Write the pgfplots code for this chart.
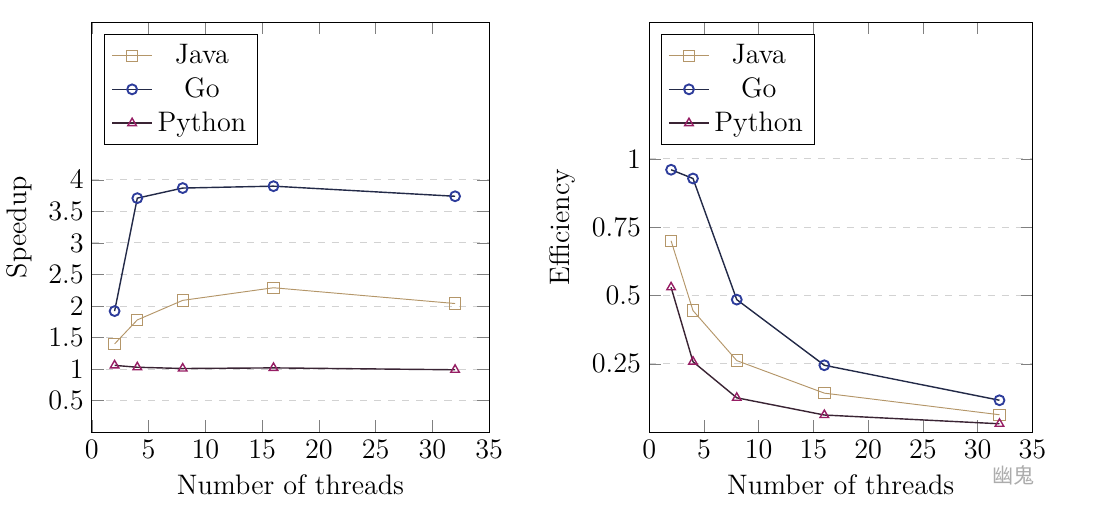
\documentclass[border=0pt]{standalone}
\usepackage{pgfplots}
\pgfplotsset{compat=1.18}
\usepackage{fontspec}
\newfontfamily\cjk{Noto Sans CJK SC}
\definecolor{javacol}{RGB}{180,150,105}
\definecolor{golinecol}{RGB}{35,42,72}
\definecolor{gomarkcol}{RGB}{45,60,155}
\definecolor{pylinecol}{RGB}{58,36,52}
\definecolor{pymarkcol}{RGB}{150,30,100}
\pgfplotsset{
  myax/.style={
    scale only axis,
    height=174.5pt,
    xmin=0, xmax=35,
    xtick={0,5,...,35},
    ymajorgrids,
    major grid style={dashed, gray!35},
    major tick length=5pt,
    xlabel={Number of threads},
    legend pos=north west,
    legend cell align=center,
    legend style={font=\large, row sep=0.5pt},
    tick label style={font=\large},
    label style={font=\large},
  },
  java/.style={color=javacol, mark=square, mark size=2.4pt, thin},
  go/.style={color=golinecol, mark=o, mark size=2.1pt, mark options={draw=gomarkcol, thick}, semithick},
  py/.style={color=pylinecol, mark=triangle, mark size=2.1pt, mark options={draw=pymarkcol}, semithick},
}
\begin{document}
\begin{tikzpicture}
\path[use as bounding box] (-39.1pt,-35.7pt) rectangle (428.9pt,183.9pt);
\begin{axis}[myax, at={(0,0)}, anchor=south west, width=169pt,
  ymin=0, ymax=6.5, ytick={0.5,1,...,4}, ylabel={Speedup}]
\addplot[java] coordinates {(2,1.40) (4,1.78) (8,2.09) (16,2.29) (32,2.04)};
\addlegendentry{Java}
\addplot[go] coordinates {(2,1.92) (4,3.71) (8,3.87) (16,3.90) (32,3.74)};
\addlegendentry{Go}
\addplot[py] coordinates {(2,1.06) (4,1.03) (8,1.01) (16,1.02) (32,0.99)};
\addlegendentry{Python}
\end{axis}
\begin{axis}[myax, at={(237.1pt,0)}, anchor=south west, width=163pt,
  ymin=0, ymax=1.5, ytick={0.25,0.5,0.75,1}, yticklabels={0.25,0.5,0.75,1}, ylabel={Efficiency}]
\addplot[java] coordinates {(2,0.70) (4,0.445) (8,0.262) (16,0.143) (32,0.064)};
\addlegendentry{Java}
\addplot[go] coordinates {(2,0.96) (4,0.928) (8,0.485) (16,0.245) (32,0.117)};
\addlegendentry{Go}
\addplot[py] coordinates {(2,0.53) (4,0.258) (8,0.126) (16,0.063) (32,0.031)};
\addlegendentry{Python}
\end{axis}
\node[anchor=center, text=gray!65, font=\small] at (392pt,-18.5pt) {\cjk 幽鬼};
\end{tikzpicture}
\end{document}
